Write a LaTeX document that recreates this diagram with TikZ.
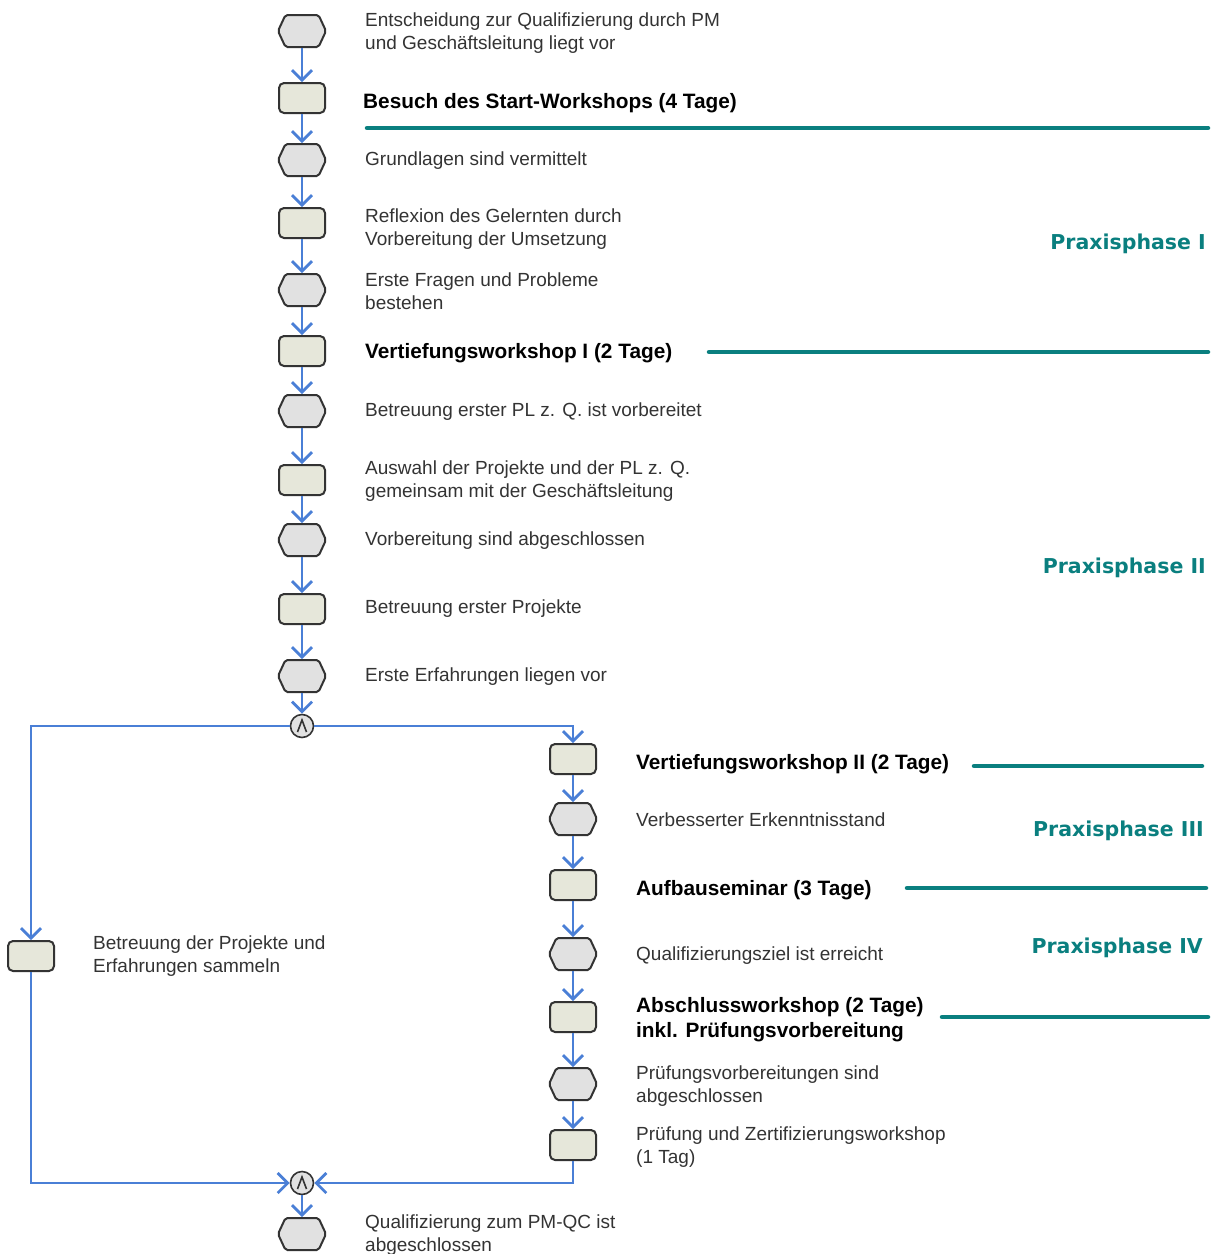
\documentclass[tikz,border=0pt]{standalone}
\usepackage{fontspec}
\setmainfont{Liberation Sans}
\newfontfamily\phasefont{DejaVu Sans}
\usetikzlibrary{arrows.meta,shapes.symbols}
\definecolor{flow}{HTML}{4A7FD6}
\definecolor{tealline}{HTML}{0A7F7F}
\definecolor{evfill}{HTML}{E1E1E1}
\definecolor{fnfill}{HTML}{E6E7DA}
\definecolor{txt}{HTML}{333333}
\definecolor{shapeborder}{HTML}{333333}
\begin{document}
\begin{tikzpicture}[x=1pt,y=-1pt,
  ev/.style={shape=signal, signal to=east and west, signal pointer angle=130,
    draw=shapeborder, line width=2pt, fill=evfill, minimum width=48pt,
    minimum height=32pt, inner sep=0pt, rounded corners=2pt},
  fn/.style={rectangle, rounded corners=5pt, draw=shapeborder, line width=2pt,
    fill=fnfill, minimum width=46pt, minimum height=30pt, inner sep=0pt},
  andc/.style={circle, draw=shapeborder, line width=1.6pt, fill=evfill,
    minimum size=23pt, inner sep=0pt},
  flowline/.style={draw=flow, line width=2.8pt},
  arr/.style={flowline, -{Straight Barb[length=10pt,width=20pt]}},
  lbl/.style={anchor=west, align=left, text=txt, inner sep=0pt, yshift=-2pt,
    font=\fontsize{19}{23}\selectfont},
  blbl/.style={anchor=west, align=left, text=black, inner sep=0pt, yshift=-2pt,
    font=\fontsize{20.8}{25}\selectfont\bfseries},
  phase/.style={anchor=east, text=tealline, inner sep=0pt,
    font=\phasefont\bfseries\fontsize{20.5}{24}\selectfont},
  tline/.style={draw=tealline, line width=4.5pt, line cap=round},
  wedgemark/.style={draw=shapeborder, line width=1.6pt, line join=miter}
]
\useasboundingbox (0,0) rectangle (1214,1254);

% main column
\node[ev] (e1) at (302,31) {};
\node[fn] (f1) at (302,98) {};
\node[ev] (e2) at (302,160) {};
\node[fn] (f2) at (302,223) {};
\node[ev] (e3) at (302,290) {};
\node[fn] (f3) at (302,351) {};
\node[ev] (e4) at (302,411) {};
\node[fn] (f4) at (302,480) {};
\node[ev] (e5) at (302,540) {};
\node[fn] (f5) at (302,609) {};
\node[ev] (e6) at (302,676) {};
\node[andc] (and1) at (302,726) {};

% right column
\node[fn] (r1) at (573,759) {};
\node[ev] (r2) at (573,819) {};
\node[fn] (r3) at (573,885) {};
\node[ev] (r4) at (573,954) {};
\node[fn] (r5) at (573,1017) {};
\node[ev] (r6) at (573,1084) {};
\node[fn] (r7) at (573,1145) {};

% left column
\node[fn] (l1) at (31,956) {};

% join
\node[andc] (and2) at (302,1183) {};
\node[ev] (efin) at (302,1234) {};

% AND marks
\draw[wedgemark] ([shift={(-4.5,6)}]and1.center) -- ([shift={(0,-6)}]and1.center) -- ([shift={(4.5,6)}]and1.center);
\draw[wedgemark] ([shift={(-4.5,6)}]and2.center) -- ([shift={(0,-6)}]and2.center) -- ([shift={(4.5,6)}]and2.center);

% flow connectors
\draw[arr] (e1) -- (f1);
\draw[arr] (f1) -- (e2);
\draw[arr] (e2) -- (f2);
\draw[arr] (f2) -- (e3);
\draw[arr] (e3) -- (f3);
\draw[arr] (f3) -- (e4);
\draw[arr] (e4) -- (f4);
\draw[arr] (f4) -- (e5);
\draw[arr] (e5) -- (f5);
\draw[arr] (f5) -- (e6);
\draw[arr] (e6) -- (and1);
\draw[arr] (and1) -| (r1);
\draw[arr] (and1) -| (l1);
\draw[arr] (r1) -- (r2);
\draw[arr] (r2) -- (r3);
\draw[arr] (r3) -- (r4);
\draw[arr] (r4) -- (r5);
\draw[arr] (r5) -- (r6);
\draw[arr] (r6) -- (r7);
\draw[arr] (l1) |- (and2);
\draw[arr] (r7) |- (and2);
\draw[arr] (and2) -- (efin);

% labels main column
\node[lbl] (t1) at (365,31) {Entscheidung zur Qualifizierung durch PM\\und Geschäftsleitung liegt vor};
\node[blbl] (t2) at (363,101) {Besuch des Start-Workshops (4 Tage)};
\node[lbl] (t3) at (365,159) {Grundlagen sind vermittelt};
\node[lbl] (t4) at (365,227) {Reflexion des Gelernten durch\\Vorbereitung der Umsetzung};
\node[lbl] (t5) at (365,289) {Erste Fragen und Probleme\\bestehen};
\node[blbl] (t6) at (365,351) {Vertiefungsworkshop I (2 Tage)};
\node[lbl] (t7) at (365,410) {Betreuung erster PL z. Q. ist vorbereitet};
\node[lbl] (t8) at (365,479) {Auswahl der Projekte und der PL z. Q.\\gemeinsam mit der Geschäftsleitung};
\node[lbl] (t9) at (365,539) {Vorbereitung sind abgeschlossen};
\node[lbl] (t10) at (365,607) {Betreuung erster Projekte};
\node[lbl] (t11) at (365,675) {Erste Erfahrungen liegen vor};

% labels right column
\node[blbl] (u1) at (636,762) {Vertiefungsworkshop II (2 Tage)};
\node[lbl] (u2) at (636,818) {Verbesserter Erkenntnisstand};
\node[blbl] (u3) at (636,888) {Aufbauseminar (3 Tage)};
\node[lbl] (u4) at (636,954) {Qualifizierungsziel ist erreicht};
\node[blbl] (u5) at (636,1018) {Abschlussworkshop (2 Tage)\\inkl. Prüfungsvorbereitung};
\node[lbl] (u6) at (636,1084) {Prüfungsvorbereitungen sind\\abgeschlossen};
\node[lbl] (u7) at (636,1145) {Prüfung und Zertifizierungsworkshop\\(1 Tag)};

% left and final labels
\node[lbl] (v1) at (93,954) {Betreuung der Projekte und\\Erfahrungen sammeln};
\node[lbl] (v2) at (365,1233) {Qualifizierung zum PM-QC ist\\abgeschlossen};

% phase separators
\coordinate (s1a) at (367,128); \coordinate (s1b) at (1208,128);
\coordinate (s2a) at (709,352); \coordinate (s2b) at (1208,352);
\coordinate (s3a) at (974,766); \coordinate (s3b) at (1202,766);
\coordinate (s4a) at (907,888); \coordinate (s4b) at (1206,888);
\coordinate (s5a) at (942,1017); \coordinate (s5b) at (1208,1017);
\draw[tline] (s1a) -- (s1b);
\draw[tline] (s2a) -- (s2b);
\draw[tline] (s3a) -- (s3b);
\draw[tline] (s4a) -- (s4b);
\draw[tline] (s5a) -- (s5b);

% phase labels
\node[phase] (p1) at (1206,244) {Praxisphase I};
\node[phase] (p2) at (1206,568) {Praxisphase II};
\node[phase] (p3) at (1204,831) {Praxisphase III};
\node[phase] (p4) at (1203,948) {Praxisphase IV};
\end{tikzpicture}
\end{document}
